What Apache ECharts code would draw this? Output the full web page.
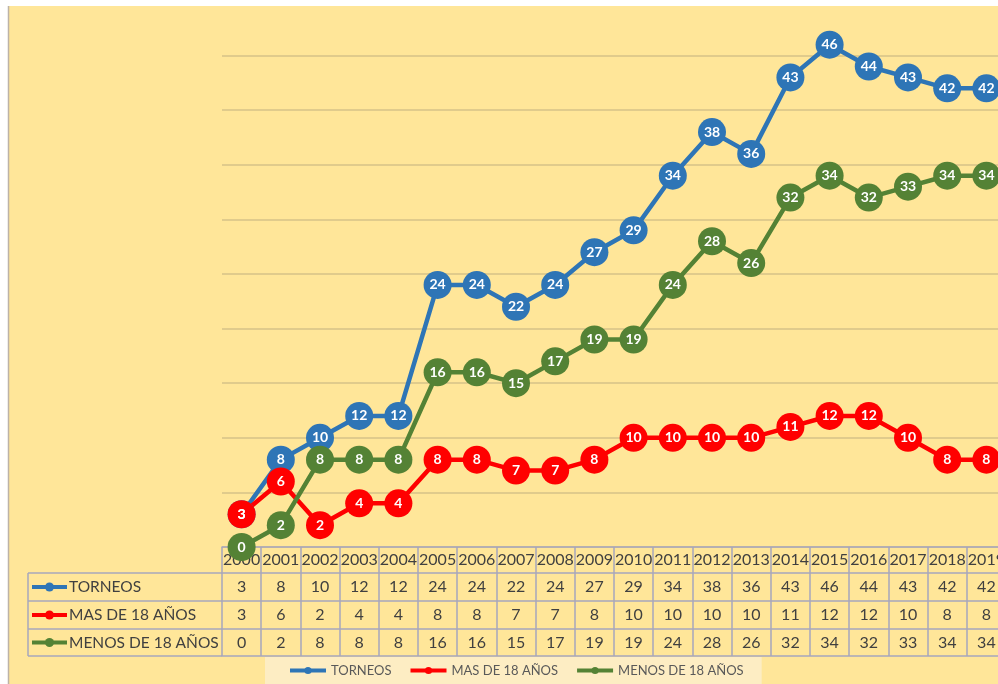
<!DOCTYPE html>
<html><head><meta charset="utf-8">
<script src="https://cdn.jsdelivr.net/npm/echarts@6/dist/echarts.min.js"></script>
<style>html,body{margin:0;padding:0;background:#fff;overflow:hidden;width:998px;height:684px}#c{width:1010px;height:684px}</style>
</head><body><div id="c"></div>
<script>
var years = ['2000','2001','2002','2003','2004','2005','2006','2007','2008','2009','2010','2011','2012','2013','2014','2015','2016','2017','2018','2019'];
var torneos = [3,8,10,12,12,24,24,22,24,27,29,34,38,36,43,46,44,43,42,42];
var mas18 = [3,6,2,4,4,8,8,7,7,8,10,10,10,10,11,12,12,10,8,8];
var menos18 = [0,2,8,8,8,16,16,15,17,19,19,24,28,26,32,34,32,33,34,34];
var names = ['TORNEOS','MAS DE 18 AÑOS','MENOS DE 18 AÑOS'];
var colors = ['#2E75B6','#FF0000','#548235'];
var rows = [torneos, mas18, menos18];

var FONT = 'Lato';
var BORDER = '#A7A7BD';
var TXT = '#404040';

function tableAxis(offset, len, arr, showLabel) {
  return {
    type: 'category', data: years, position: 'bottom', offset: offset, gridIndex: 0,
    axisLine: {show: true, lineStyle: {color: BORDER, width: 1.5}},
    axisTick: {show: len > 0, interval: 0, length: len, lineStyle: {color: BORDER, width: 1.5}},
    axisLabel: {show: showLabel, interval: 0, margin: len / 2, verticalAlign: 'middle',
      fontFamily: FONT, fontSize: 16, color: TXT, hideOverlap: false,
      formatter: function (v, i) { return arr ? String(arr[i]) : v; }},
    splitLine: {show: false}
  };
}

var chart = echarts.init(document.getElementById('c'));
var series = names.map(function (n, k) {
  return {
    name: n, type: 'line', xAxisIndex: 0, yAxisIndex: 0, data: rows[k],
    symbol: 'circle', symbolSize: 28,
    lineStyle: {color: colors[k], width: 4.5},
    itemStyle: {color: colors[k]},
    label: {show: true, position: 'inside', color: '#fff', fontWeight: 'bold', fontSize: 14, fontFamily: FONT},
    emphasis: {disabled: true}, animation: false
  };
});

var graphics = [];
var rowTops = [573, 601, 629, 656];
graphics.push({type: 'line', shape: {x1: 28, y1: 573, x2: 28, y2: 656}, style: {stroke: BORDER, lineWidth: 1.5}, z: 10});
rowTops.forEach(function (y) {
  graphics.push({type: 'line', shape: {x1: 28, y1: y, x2: 222, y2: y}, style: {stroke: BORDER, lineWidth: 1.5}, z: 10});
});
names.forEach(function (n, k) {
  var cy = (rowTops[k] + rowTops[k + 1]) / 2;
  graphics.push({type: 'line', shape: {x1: 32, y1: cy, x2: 67, y2: cy}, style: {stroke: colors[k], lineWidth: 4}, z: 10});
  graphics.push({type: 'circle', shape: {cx: 49.5, cy: cy, r: 4.5}, style: {fill: colors[k]}, z: 10});
  graphics.push({type: 'text', x: 69, y: cy, style: {text: n, font: '15.5px ' + FONT, fill: TXT, verticalAlign: 'middle', align: 'left'}, z: 10});
});
graphics.push({type: 'rect', shape: {x: 0, y: 0, width: 1010, height: 6}, style: {fill: '#fff'}, z: 100});
graphics.push({type: 'rect', shape: {x: 0, y: 0, width: 8, height: 684}, style: {fill: '#fff'}, z: 100});
graphics.push({type: 'line', shape: {x1: 8.5, y1: 6, x2: 8.5, y2: 684}, style: {stroke: '#BDB3A8', lineWidth: 1.5}, z: 100});

chart.setOption({
  animation: false,
  backgroundColor: '#FFE699',
  grid: {left: 222, top: 1, width: 784, height: 546, containLabel: false},
  legend: {
    data: names, left: 265, top: 657, itemWidth: 36, itemHeight: 9, itemGap: 17,
    padding: [7, 18, 10, 23], backgroundColor: '#FDEDC3',
    lineStyle: {width: 4},
    textStyle: {fontFamily: FONT, fontSize: 13, color: '#595959'}
  },
  xAxis: [
    tableAxis(0, 26, null, true),
    tableAxis(26, 28, torneos, true),
    tableAxis(54, 28, mas18, true),
    tableAxis(82, 27, menos18, true),
    tableAxis(109, 0, null, false)
  ],
  yAxis: {type: 'value', min: 0, max: 50, interval: 5, axisLabel: {show: false}, axisLine: {show: false}, axisTick: {show: false},
    splitLine: {show: true, lineStyle: {color: '#D6C289', width: 1.5}}},
  series: series,
  graphic: graphics
});
</script></body></html>
